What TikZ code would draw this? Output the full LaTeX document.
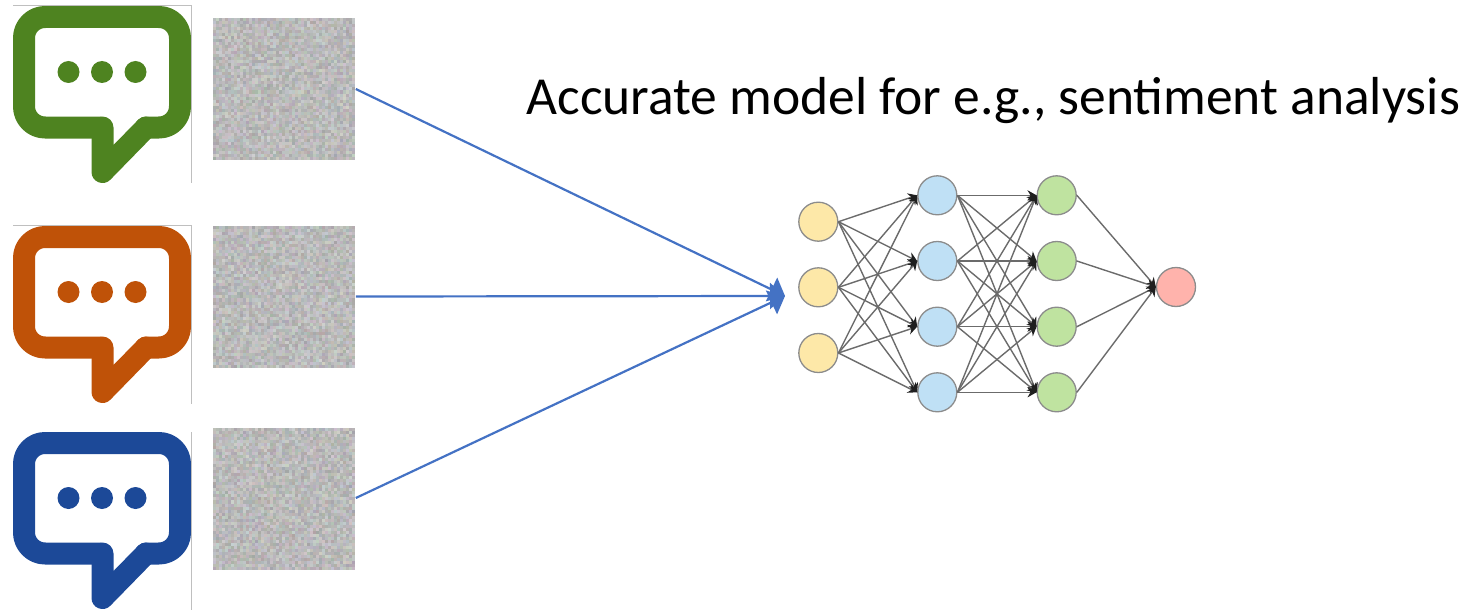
\documentclass[tikz,border=0pt]{standalone}
\usepackage{fontspec}
\setmainfont{Carlito}
\usetikzlibrary{arrows.meta}
\definecolor{chatgreen}{HTML}{4E8320}
\definecolor{chatorange}{HTML}{BF5208}
\definecolor{chatblue}{HTML}{1C4998}
\definecolor{linkblue}{HTML}{4472C4}
\definecolor{inyellow}{HTML}{FDE8A8}
\definecolor{hidblue}{HTML}{BFE0F5}
\definecolor{hidgreen}{HTML}{BFE3A0}
\definecolor{outred}{HTML}{FFB3AC}
\begin{document}
\begin{tikzpicture}[x=1pt, y=-1pt, thick]
    \tikzstyle{bubble} = [line width=22pt, line join=round, line cap=round]
    \tikzstyle{noisebox} = [rectangle, fill=black!27, minimum width=142pt, minimum height=142pt, inner sep=0pt, anchor=north west]
    \tikzstyle{frameline} = [black!25, line width=0.8pt]
    \tikzstyle{neuron} = [circle, draw=black!45, line width=1.3pt, minimum size=39pt, inner sep=0pt]
    \tikzstyle{link} = [-{Stealth[length=9pt, width=10pt, black!88]}, black!58, line width=1.4pt]
    \tikzstyle{arrow} = [-{Triangle[length=15pt, width=26pt]}, linkblue, line width=2.2pt]

    \useasboundingbox (0,0) rectangle (1465,610);

    % speech bubbles
    \foreach \shift/\col in {0/chatgreen, 220/chatorange, 426/chatblue} {
        \begin{scope}[yshift=-\shift pt]
            \draw [bubble, \col, rounded corners=21pt] (100,127.5) -- (24,127.5) -- (24,17) -- (180,17) -- (180,127.5) -- (146,127.5);
            \draw [bubble, \col] (102.5,127.5) -- (102.5,172) -- (146,127.5);
            \foreach \x in {68.5,102,135.5}
                \fill [\col] (\x,72) circle (11pt);
        \end{scope}
    }
    \draw [frameline] (13,5.5) -- (191,5.5) -- (191,183);
    \draw [frameline] (13,225.5) -- (191,225.5) -- (191,404);
    \draw [frameline] (191,432) -- (191,610);

    % noise images
    \node [noisebox] (noiseA) at (213,18) {};
    \node [noisebox] (noiseB) at (213,226) {};
    \node [noisebox] (noiseC) at (213,428) {};
    \pgfmathsetseed{42}
    \foreach \ytop in {18,226,428} {
        \foreach \i in {0,...,46} {
            \foreach \j in {0,...,46} {
                \pgfmathsetmacro{\grey}{0.73+0.06*rand}
                \pgfmathsetmacro{\rr}{\grey+0.035*rand}
                \pgfmathsetmacro{\gg}{\grey+0.035*rand}
                \pgfmathsetmacro{\bb}{\grey+0.035*rand}
                \definecolor{cell}{rgb}{\rr,\gg,\bb}
                \fill [cell] (213+\i*3.02,\ytop+\j*3.02) rectangle ++(3.02,3.02);
            }
        }
    }

    % network
    \foreach \y [count=\n] in {221.7,287.3,353}
        \node [neuron, fill=inyellow] (in\n) at (818.3,\y) {};
    \foreach \y [count=\n] in {195.3,261,326.7,392.3}
        \node [neuron, fill=hidblue] (hidA\n) at (937.3,\y) {};
    \foreach \y [count=\n] in {195.3,261,326.7,392.3}
        \node [neuron, fill=hidgreen] (hidB\n) at (1056.7,\y) {};
    \node [neuron, fill=outred] (out) at (1176,287) {};

    \foreach \a in {1,2,3}
        \foreach \b in {1,2,3,4}
            \draw [link] (in\a.east) -- (hidA\b.west);
    \foreach \a in {1,2,3,4}
        \foreach \b in {1,2,3,4}
            \draw [link] (hidA\a.east) -- (hidB\b.west);
    \foreach \a in {1,2,3,4}
        \draw [link] (hidB\a.east) -- (out.west);

    % arrows into the network
    \coordinate (tip) at (785,296);
    \draw [arrow] (noiseA.east |- 0,89) -- (tip);
    \draw [arrow] (noiseB.east |- 0,296.5) -- (tip);
    \draw [arrow] (noiseC.east |- 0,498) -- (tip);

    \node [anchor=base west, inner sep=0pt, font=\fontsize{53.5}{64}\selectfont] (title) at (526,114.5) {Accurate model for e.g., sentiment analysis};
\end{tikzpicture}
\end{document}
